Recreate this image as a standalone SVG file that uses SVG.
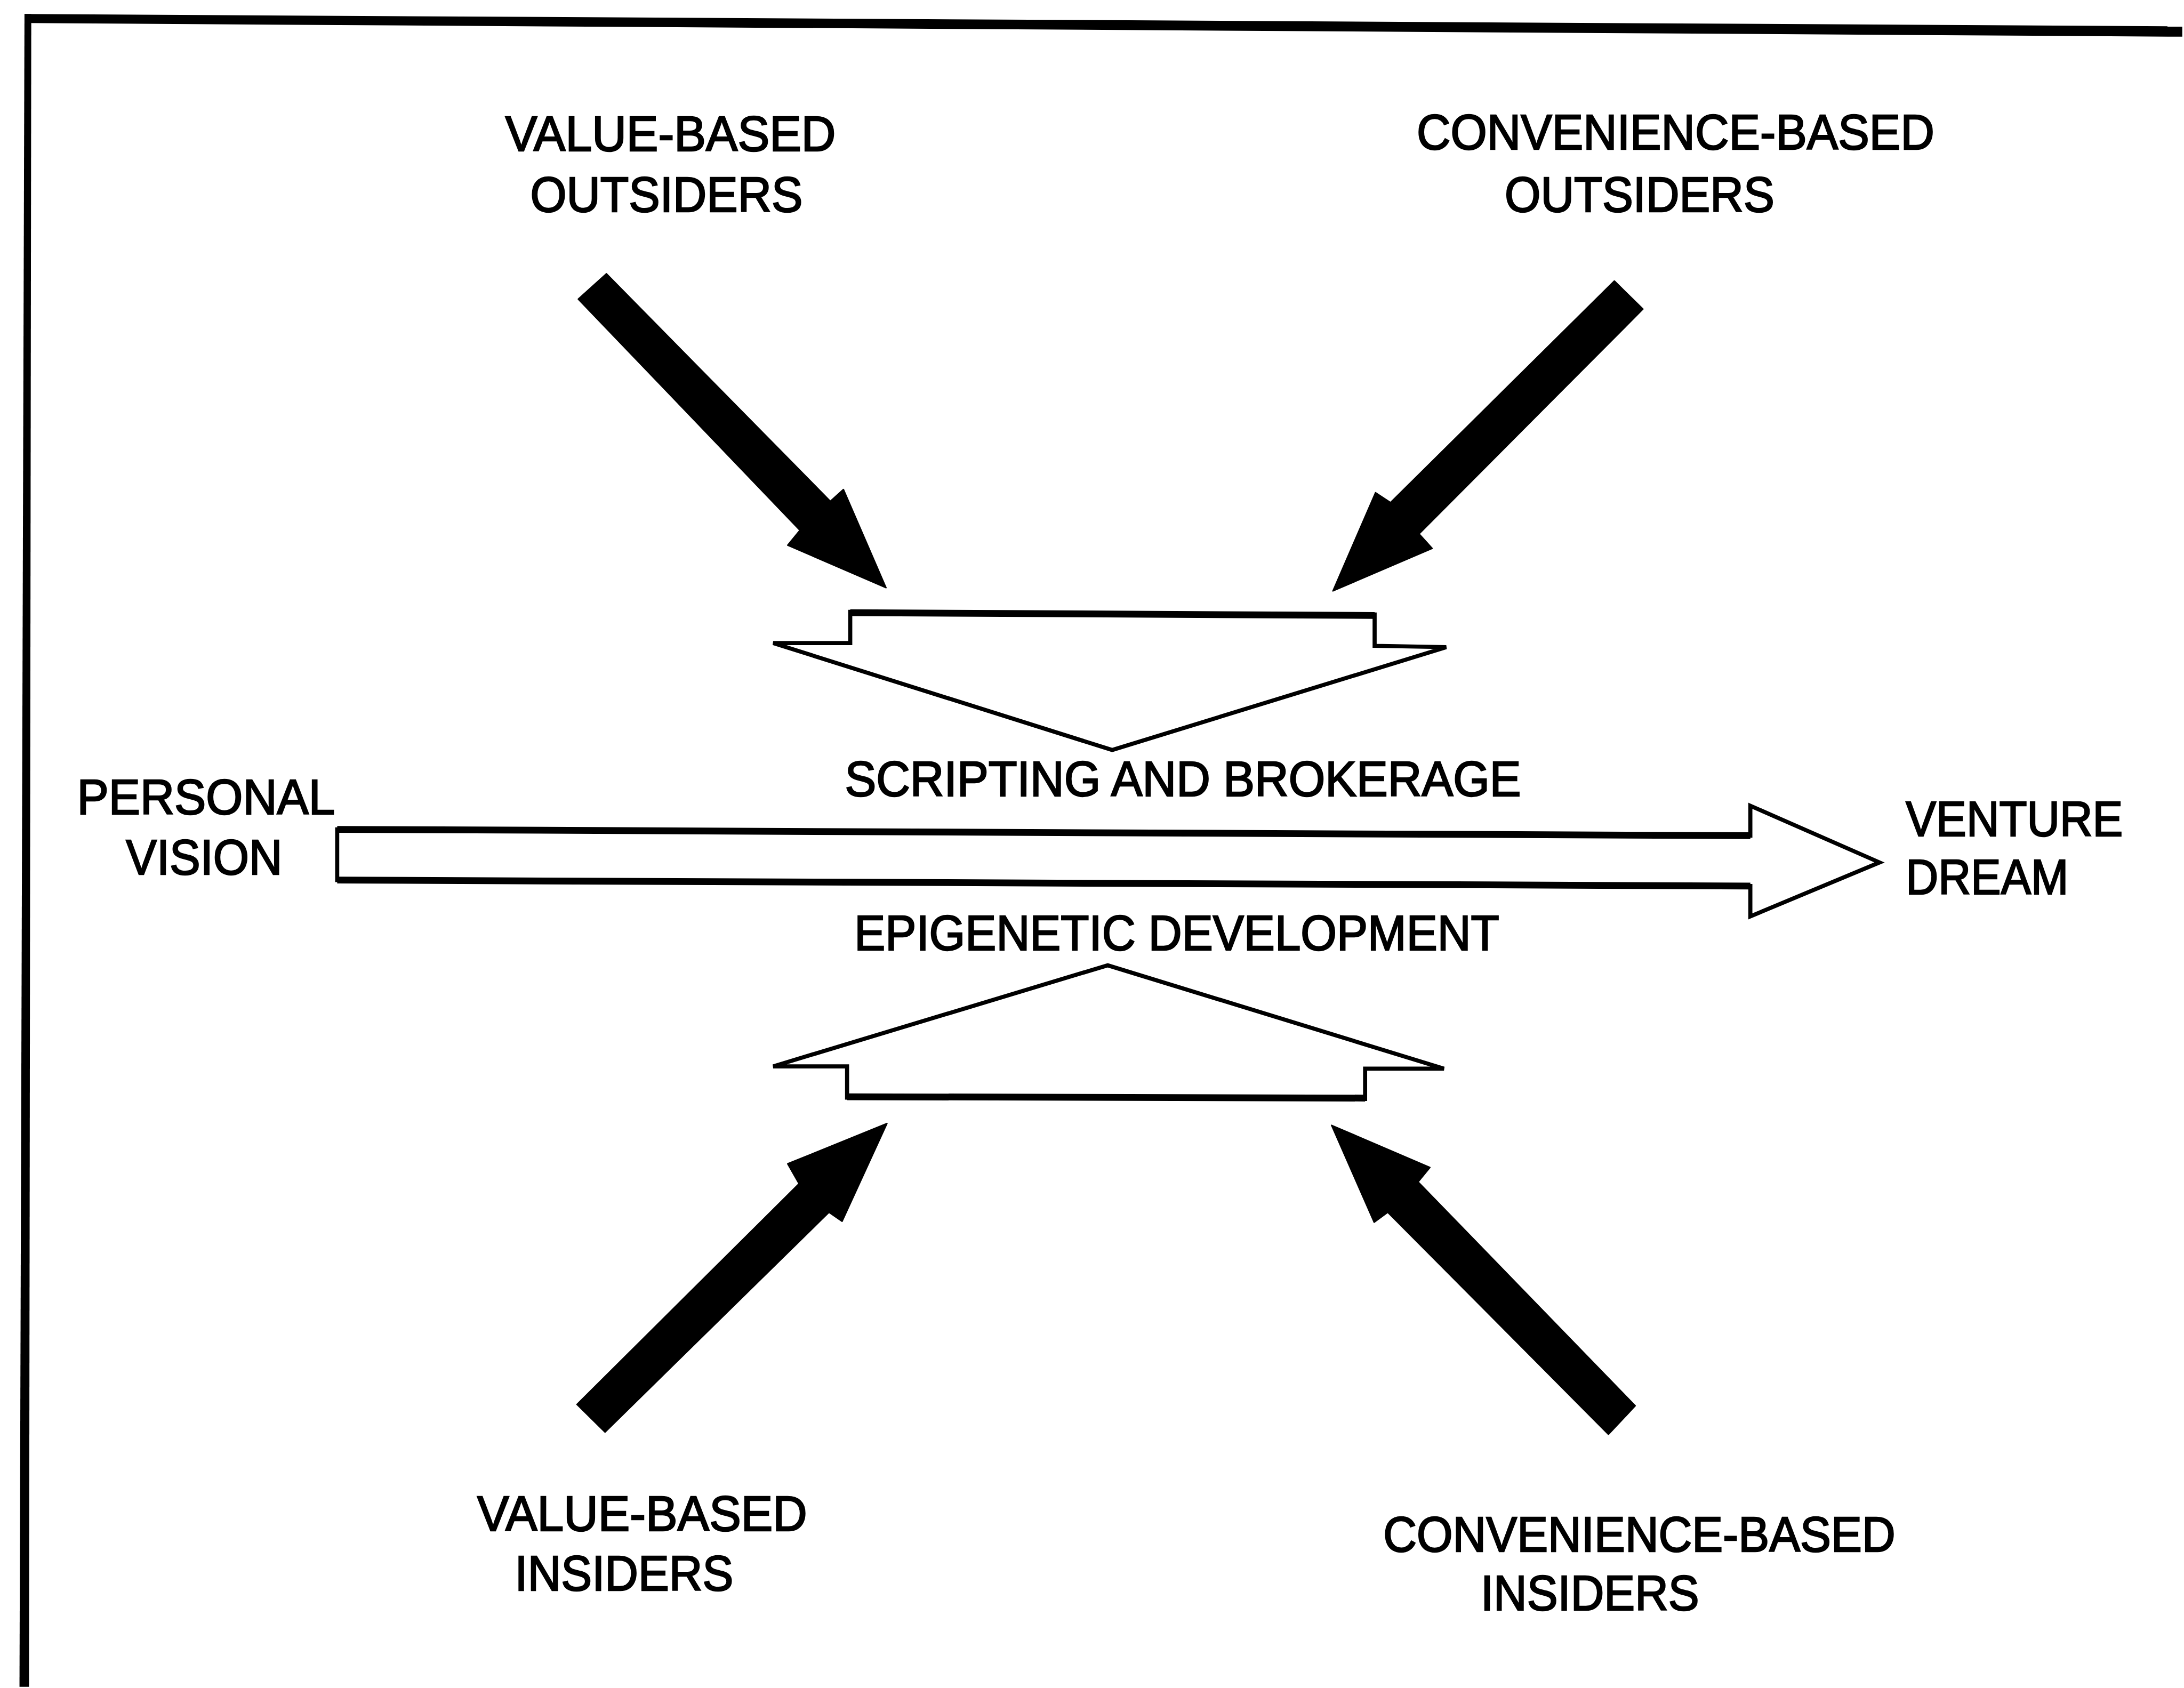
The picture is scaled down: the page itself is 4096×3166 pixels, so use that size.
<svg xmlns="http://www.w3.org/2000/svg" width="4096" height="3166" viewBox="0 0 4096 3166">
  <style>
    .lbl { font-family: "Liberation Sans", Arial, sans-serif; font-size: 110px; fill: #000; stroke: #000; stroke-width: 3; }
    .solid { fill: #000; stroke: #000; stroke-width: 3; stroke-linejoin: round; }
    .hollow { fill: #fff; stroke: #000; stroke-width: 9; stroke-linejoin: miter; }
    .heavy { stroke: #000; stroke-width: 15; stroke-linecap: butt; fill: none; }
  </style>
  <rect width="4096" height="3166" fill="#fff"/>
  <g transform="scale(0.85)">
    <!-- frame: heavy rule along the top and left edges -->
    <g id="frame">
      <path d="M54,31 L4815,58 L4815,81 L69,51 Z" fill="#000"/>
      <path d="M54,31 L69,31 L64,3722 L43,3722 Z" fill="#000"/>
    </g>

    <g id="connectors">
      <!-- main flow: personal vision to venture dream -->
      <g id="main-flow">
        <polygon class="hollow" stroke-width="6" points="744,1830 3862,1844 3862,1778 4147,1903 3862,2022 3862,1955 744,1942"/>
        <line class="heavy" stroke-width="13" x1="744" y1="1830" x2="3862" y2="1844"/>
        <line class="heavy" stroke-width="13" x1="744" y1="1942" x2="3862" y2="1955"/>
      </g>
      <!-- solid arrows from the four groups -->
      <polygon id="arrow-vbo" class="solid" points="1276,660 1338,604 1832,1106 1861,1080 1955,1297 1738,1203 1765,1170"/>
      <polygon id="arrow-cbo" class="solid" points="3562,620 3625,682 3131,1178 3160,1210 2941,1304 3035,1087 3068,1109"/>
      <polygon id="arrow-vbi" class="solid" points="1273,3099 1763,2612 1738,2568 1957,2479 1858,2695 1829,2675 1335,3160"/>
      <polygon id="arrow-cbi" class="solid" points="2938,2483 3155,2576 3129,2608 3608,3102 3549,3165 3062,2675 3032,2697"/>
    </g>

    <!-- hollow block arrows -->
    <g id="scripting-arrow">
      <polygon class="hollow" points="1876,1350 3033,1356 3033,1425 3191,1428 2454,1655 1706,1419 1876,1419"/>
      <line class="heavy" x1="1876" y1="1352" x2="3033" y2="1358"/>
    </g>
    <g id="epigenetic-arrow">
      <polygon class="hollow" points="2444,2130 3186,2358 3012,2358 3012,2425 1869,2422 1869,2353 1706,2353"/>
      <line class="heavy" x1="1869" y1="2420" x2="3012" y2="2423"/>
    </g>

    <!-- labels -->
    <g id="value-based-outsiders">
      <text class="lbl" x="1115" y="333" textLength="729" lengthAdjust="spacingAndGlyphs">VALUE-BASED</text>
      <text class="lbl" x="1170" y="467" textLength="601" lengthAdjust="spacingAndGlyphs">OUTSIDERS</text>
    </g>
    <g id="convenience-based-outsiders">
      <text class="lbl" x="3126" y="329" textLength="1142" lengthAdjust="spacingAndGlyphs">CONVENIENCE-BASED</text>
      <text class="lbl" x="3320" y="467" textLength="595" lengthAdjust="spacingAndGlyphs">OUTSIDERS</text>
    </g>
    <g id="personal-vision">
      <text class="lbl" x="170" y="1797" textLength="569" lengthAdjust="spacingAndGlyphs">PERSONAL</text>
      <text class="lbl" x="278" y="1930" textLength="345" lengthAdjust="spacingAndGlyphs">VISION</text>
    </g>
    <g id="scripting-label">
      <text class="lbl" x="1864" y="1756" textLength="1492" lengthAdjust="spacingAndGlyphs">SCRIPTING AND BROKERAGE</text>
    </g>
    <g id="venture-dream">
      <text class="lbl" x="4205" y="1845" textLength="479" lengthAdjust="spacingAndGlyphs">VENTURE</text>
      <text class="lbl" x="4205" y="1973" textLength="359" lengthAdjust="spacingAndGlyphs">DREAM</text>
    </g>
    <g id="epigenetic-label">
      <text class="lbl" x="1885" y="2097" textLength="1423" lengthAdjust="spacingAndGlyphs">EPIGENETIC DEVELOPMENT</text>
    </g>
    <g id="value-based-insiders">
      <text class="lbl" x="1053" y="3378" textLength="728" lengthAdjust="spacingAndGlyphs">VALUE-BASED</text>
      <text class="lbl" x="1136" y="3510" textLength="482" lengthAdjust="spacingAndGlyphs">INSIDERS</text>
    </g>
    <g id="convenience-based-insiders">
      <text class="lbl" x="3052" y="3424" textLength="1130" lengthAdjust="spacingAndGlyphs">CONVENIENCE-BASED</text>
      <text class="lbl" x="3267" y="3553" textLength="482" lengthAdjust="spacingAndGlyphs">INSIDERS</text>
    </g>
  </g>
</svg>
